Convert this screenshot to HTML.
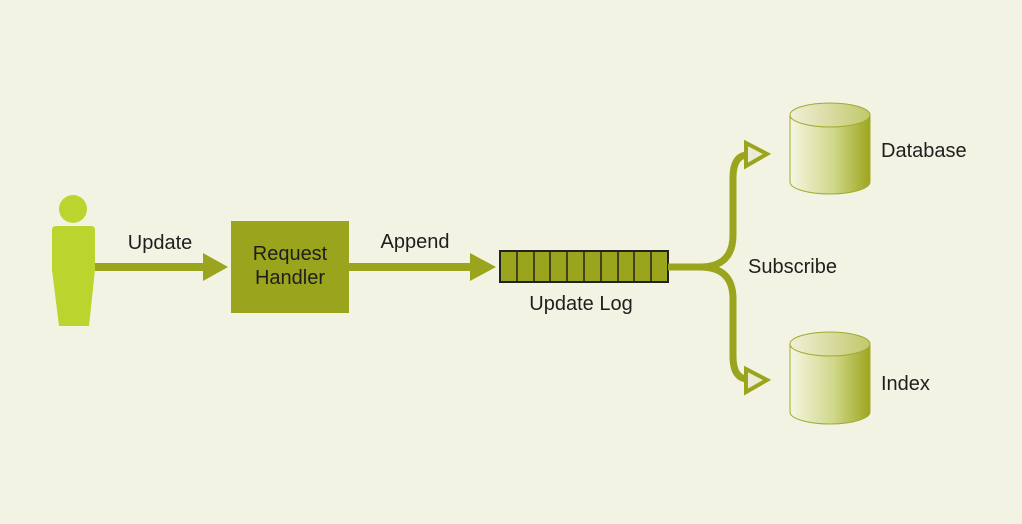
<!DOCTYPE html>
<html><head><meta charset="utf-8"><style>
html,body{margin:0;padding:0;background:#f3f3e4;}
svg{display:block}
text{font-family:"Liberation Sans",sans-serif;fill:#1e1e1e;font-size:20px}
</style></head><body>
<svg width="1022" height="524" viewBox="0 0 1022 524" xmlns="http://www.w3.org/2000/svg">
<defs>
<linearGradient id="cg" x1="0" x2="1" y1="0" y2="0">
<stop offset="0" stop-color="#f6f6e2"/>
<stop offset="0.55" stop-color="#cfd78a"/>
<stop offset="1" stop-color="#9ea51e"/>
</linearGradient>
<linearGradient id="tg" x1="0" x2="1" y1="0" y2="0">
<stop offset="0" stop-color="#f0f0d8"/>
<stop offset="1" stop-color="#c0c86a"/>
</linearGradient>
</defs>
<rect width="1022" height="524" fill="#f3f3e4"/>
<!-- person -->
<circle cx="73" cy="209" r="14" fill="#bcd52e"/>
<path d="M56 226 H91 Q95 226 95 230 V270 L89 326 H59 L52 270 V230 Q52 226 56 226Z" fill="#bcd52e"/>
<!-- arrow 1 -->
<rect x="95" y="263" width="110" height="8" fill="#9aa41c"/>
<polygon points="203,253 228,267 203,281" fill="#9aa41c"/>
<text x="160" y="249" text-anchor="middle">Update</text>
<!-- request handler -->
<rect x="231" y="221" width="118" height="92" fill="#9aa41c"/>
<text x="290" y="260" text-anchor="middle">Request</text>
<text x="290" y="284" text-anchor="middle">Handler</text>
<!-- arrow 2 -->
<rect x="349" y="263" width="123" height="8" fill="#9aa41c"/>
<polygon points="470,253 496,267 470,281" fill="#9aa41c"/>
<text x="415" y="248" text-anchor="middle">Append</text>
<!-- log -->
<rect x="500" y="251" width="168" height="31" fill="#9aa41c" stroke="#222" stroke-width="2"/>
<g stroke="#222" stroke-width="1.5">
<line x1="517" y1="251" x2="517" y2="282"/><line x1="534" y1="251" x2="534" y2="282"/>
<line x1="550" y1="251" x2="550" y2="282"/><line x1="567" y1="251" x2="567" y2="282"/>
<line x1="584" y1="251" x2="584" y2="282"/><line x1="601" y1="251" x2="601" y2="282"/>
<line x1="618" y1="251" x2="618" y2="282"/><line x1="634" y1="251" x2="634" y2="282"/>
<line x1="651" y1="251" x2="651" y2="282"/>
</g>
<text x="581" y="310" text-anchor="middle">Update Log</text>
<!-- branches -->
<g fill="none" stroke="#9aa41c" stroke-width="7">
<path d="M668 267 H700 Q733 267 733 235 V178 Q733 155 748 155"/>
<path d="M668 267 H700 Q733 267 733 299 V356 Q733 379 748 379"/>
</g>
<polygon points="746,143 767,154 746,166" fill="#ecebd6" stroke="#9aa41c" stroke-width="4"/>
<polygon points="746,369 767,380 746,392" fill="#ecebd6" stroke="#9aa41c" stroke-width="4"/>
<text x="748" y="273">Subscribe</text>
<!-- cylinders -->
<g stroke="#a3aa2e" stroke-width="1">
<path d="M790 115 V182 A40 12 0 0 0 870 182 V115Z" fill="url(#cg)"/>
<ellipse cx="830" cy="115" rx="40" ry="12" fill="url(#tg)"/>
<path d="M790 344 V412 A40 12 0 0 0 870 412 V344Z" fill="url(#cg)"/>
<ellipse cx="830" cy="344" rx="40" ry="12" fill="url(#tg)"/>
</g>
<text x="881" y="157">Database</text>
<text x="881" y="390">Index</text>
</svg>
</body></html>
